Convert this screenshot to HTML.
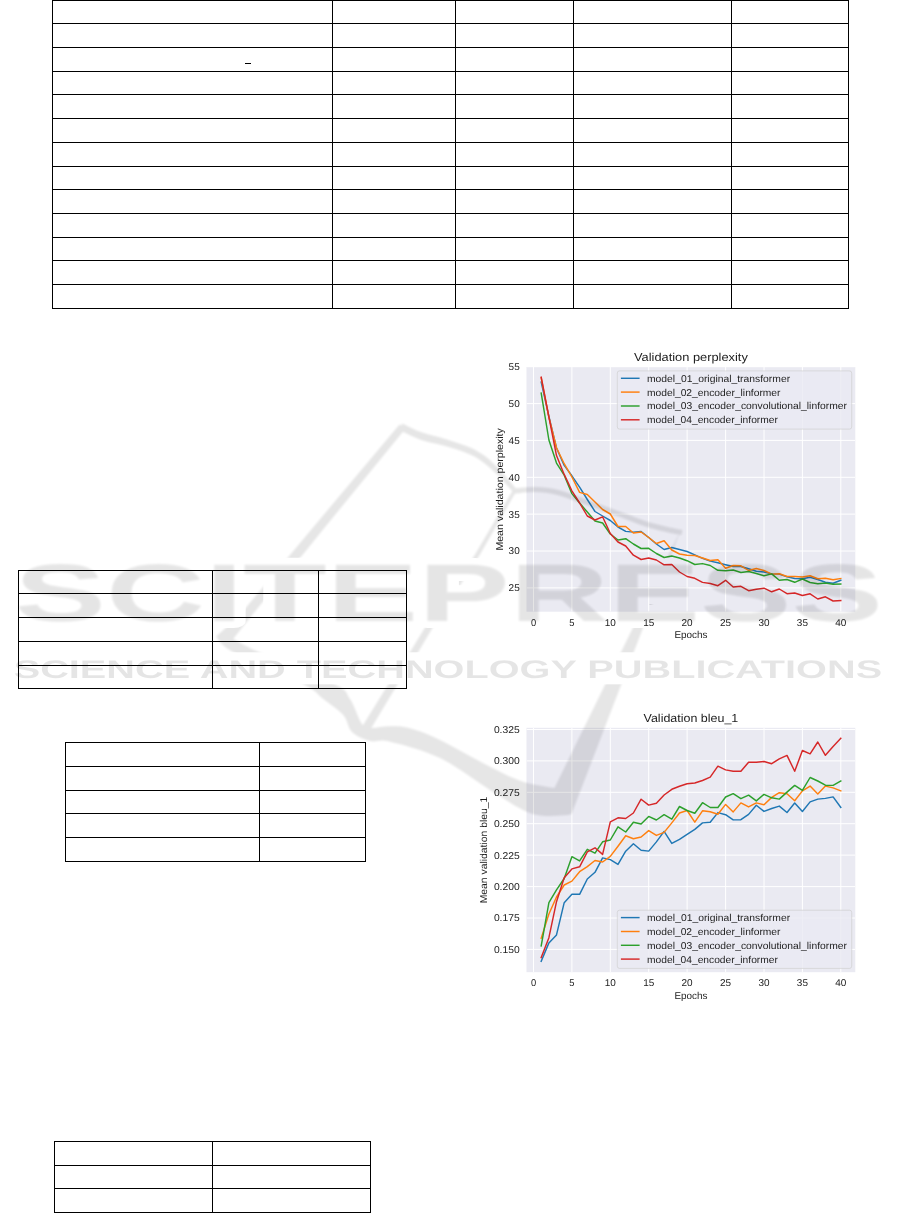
<!DOCTYPE html>
<html lang="en"><head><meta charset="utf-8"><title>Page</title>
<style>html,body{margin:0;padding:0;background:#fff}body{width:901px;height:1213px;overflow:hidden;position:relative;font-family:"Liberation Sans",sans-serif}svg{position:absolute;left:0;top:0;display:block}text{font-family:"Liberation Sans",sans-serif;fill:#1c1c1c;opacity:.999;text-rendering:geometricPrecision}</style></head><body>
<svg width="901" height="1213" viewBox="0 0 901 1213">
<defs><filter id="wb" x="-5%" y="-5%" width="110%" height="110%"><feGaussianBlur stdDeviation="1.0"/></filter><filter id="wb2" x="-5%" y="-20%" width="110%" height="140%"><feGaussianBlur stdDeviation="0.5"/></filter></defs>
<rect x="526.5" y="367.0" width="328.8" height="244.7" fill="#eaeaf2"/>
<clipPath id="cp367"><rect x="526.5" y="367.0" width="328.8" height="244.7"/></clipPath>
<path d="M533.5 367.0V611.7M571.9 367.0V611.7M610.3 367.0V611.7M648.7 367.0V611.7M687.1 367.0V611.7M725.6 367.0V611.7M764.0 367.0V611.7M802.4 367.0V611.7M840.8 367.0V611.7M526.5 366.7H855.3M526.5 403.6H855.3M526.5 440.4H855.3M526.5 477.3H855.3M526.5 514.1H855.3M526.5 551.0H855.3M526.5 587.9H855.3" stroke="#fff" stroke-width="1" fill="none" clip-path="url(#cp367)"/>
<polyline points="541.2,382.1 548.9,416.5 556.5,448.0 564.2,465.4 571.9,475.8 579.6,487.2 587.3,499.5 595.0,511.5 602.6,516.0 610.3,520.5 618.0,527.0 625.7,531.4 633.4,532.1 641.1,531.5 648.7,537.5 656.4,544.0 664.1,549.5 671.8,547.5 679.5,549.5 687.1,551.5 694.8,554.8 702.5,558.3 710.2,561.1 717.9,562.8 725.6,564.7 733.2,566.5 740.9,566.5 748.6,568.7 756.3,571.2 764.0,572.0 771.7,573.9 779.3,574.1 787.0,576.7 794.7,578.5 802.4,578.7 810.1,577.2 817.8,579.5 825.4,582.2 833.1,583.3 840.8,580.3" fill="none" stroke="#1f77b4" stroke-width="1.45" stroke-linejoin="round" stroke-linecap="square"/>
<polyline points="541.2,377.8 548.9,417.3 556.5,447.8 564.2,463.7 571.9,477.0 579.6,492.4 587.3,494.5 595.0,502.0 602.6,509.5 610.3,514.0 618.0,526.5 625.7,526.5 633.4,533.0 641.1,532.0 648.7,537.5 656.4,543.5 664.1,540.8 671.8,550.0 679.5,554.0 687.1,555.2 694.8,555.5 702.5,558.0 710.2,560.5 717.9,559.8 725.6,568.2 733.2,565.5 740.9,565.8 748.6,570.5 756.3,568.5 764.0,570.5 771.7,574.1 779.3,573.7 787.0,576.5 794.7,576.5 802.4,577.0 810.1,575.7 817.8,578.7 825.4,578.3 833.1,579.7 840.8,578.5" fill="none" stroke="#ff7f0e" stroke-width="1.45" stroke-linejoin="round" stroke-linecap="square"/>
<polyline points="541.2,393.1 548.9,440.0 556.5,463.1 564.2,475.2 571.9,493.6 579.6,503.0 587.3,512.0 595.0,521.0 602.6,523.0 610.3,534.0 618.0,540.0 625.7,538.7 633.4,544.0 641.1,548.5 648.7,548.3 656.4,553.5 664.1,557.5 671.8,556.0 679.5,558.0 687.1,560.7 694.8,564.5 702.5,563.6 710.2,565.5 717.9,570.3 725.6,570.8 733.2,570.0 740.9,572.5 748.6,571.5 756.3,573.5 764.0,575.8 771.7,573.9 779.3,580.3 787.0,579.5 794.7,582.3 802.4,579.0 810.1,582.5 817.8,583.7 825.4,583.0 833.1,584.2 840.8,584.0" fill="none" stroke="#2ca02c" stroke-width="1.45" stroke-linejoin="round" stroke-linecap="square"/>
<polyline points="541.2,377.2 548.9,417.0 556.5,455.6 564.2,474.4 571.9,490.8 579.6,503.0 587.3,516.0 595.0,520.0 602.6,516.8 610.3,533.5 618.0,542.0 625.7,546.0 633.4,555.2 641.1,559.5 648.7,558.0 656.4,560.0 664.1,564.8 671.8,564.5 679.5,572.0 687.1,576.5 694.8,578.3 702.5,582.4 710.2,583.5 717.9,585.7 725.6,580.3 733.2,587.0 740.9,586.3 748.6,590.7 756.3,589.2 764.0,588.2 771.7,591.8 779.3,589.0 787.0,593.7 794.7,593.0 802.4,595.5 810.1,593.8 817.8,599.0 825.4,596.8 833.1,601.0 840.8,600.5" fill="none" stroke="#d62728" stroke-width="1.45" stroke-linejoin="round" stroke-linecap="square"/>
<rect x="617.3" y="370.9" width="234.4" height="58.2" rx="2.2" fill="#eaeaf2" fill-opacity=".8" stroke="#ccc" stroke-opacity=".8" stroke-width=".8"/>
<path d="M620.9 378.3H639.6" stroke="#1f77b4" stroke-width="1.45"/>
<text x="647.0" y="381.6" font-size="9.9" text-anchor="start" textLength="143.1" lengthAdjust="spacingAndGlyphs">model_01_original_transformer</text>
<path d="M620.9 392.1H639.6" stroke="#ff7f0e" stroke-width="1.45"/>
<text x="647.0" y="395.5" font-size="9.9" text-anchor="start" textLength="133.5" lengthAdjust="spacingAndGlyphs">model_02_encoder_linformer</text>
<path d="M620.9 406.0H639.6" stroke="#2ca02c" stroke-width="1.45"/>
<text x="647.0" y="409.3" font-size="9.9" text-anchor="start" textLength="199.9" lengthAdjust="spacingAndGlyphs">model_03_encoder_convolutional_linformer</text>
<path d="M620.9 419.8H639.6" stroke="#d62728" stroke-width="1.45"/>
<text x="647.0" y="423.2" font-size="9.9" text-anchor="start" textLength="130.9" lengthAdjust="spacingAndGlyphs">model_04_encoder_informer</text>
<text x="690.9" y="360.7" font-size="11.5" text-anchor="middle" textLength="113.8" lengthAdjust="spacingAndGlyphs">Validation perplexity</text>
<text x="533.5" y="625.6" font-size="9.9" text-anchor="middle" textLength="5.2" lengthAdjust="spacingAndGlyphs">0</text>
<text x="571.9" y="625.6" font-size="9.9" text-anchor="middle" textLength="5.2" lengthAdjust="spacingAndGlyphs">5</text>
<text x="610.3" y="625.6" font-size="9.9" text-anchor="middle" textLength="11.1" lengthAdjust="spacingAndGlyphs">10</text>
<text x="648.7" y="625.6" font-size="9.9" text-anchor="middle" textLength="11.1" lengthAdjust="spacingAndGlyphs">15</text>
<text x="687.1" y="625.6" font-size="9.9" text-anchor="middle" textLength="11.1" lengthAdjust="spacingAndGlyphs">20</text>
<text x="725.6" y="625.6" font-size="9.9" text-anchor="middle" textLength="11.1" lengthAdjust="spacingAndGlyphs">25</text>
<text x="764.0" y="625.6" font-size="9.9" text-anchor="middle" textLength="11.1" lengthAdjust="spacingAndGlyphs">30</text>
<text x="802.4" y="625.6" font-size="9.9" text-anchor="middle" textLength="11.1" lengthAdjust="spacingAndGlyphs">35</text>
<text x="840.8" y="625.6" font-size="9.9" text-anchor="middle" textLength="11.1" lengthAdjust="spacingAndGlyphs">40</text>
<text x="690.9" y="638.3" font-size="9.9" text-anchor="middle" textLength="33.0" lengthAdjust="spacingAndGlyphs">Epochs</text>
<text x="519.7" y="370.1" font-size="9.9" text-anchor="end" textLength="11.1" lengthAdjust="spacingAndGlyphs">55</text>
<text x="519.7" y="406.9" font-size="9.9" text-anchor="end" textLength="11.1" lengthAdjust="spacingAndGlyphs">50</text>
<text x="519.7" y="443.8" font-size="9.9" text-anchor="end" textLength="11.1" lengthAdjust="spacingAndGlyphs">45</text>
<text x="519.7" y="480.7" font-size="9.9" text-anchor="end" textLength="11.1" lengthAdjust="spacingAndGlyphs">40</text>
<text x="519.7" y="517.5" font-size="9.9" text-anchor="end" textLength="11.1" lengthAdjust="spacingAndGlyphs">35</text>
<text x="519.7" y="554.4" font-size="9.9" text-anchor="end" textLength="11.1" lengthAdjust="spacingAndGlyphs">30</text>
<text x="519.7" y="591.2" font-size="9.9" text-anchor="end" textLength="11.1" lengthAdjust="spacingAndGlyphs">25</text>
<text transform="translate(502.6 489.4) rotate(-90)" font-size="9.9" text-anchor="middle" textLength="122.4" lengthAdjust="spacingAndGlyphs">Mean validation perplexity</text>
<rect x="526.5" y="727.8" width="328.8" height="244.4" fill="#eaeaf2"/>
<clipPath id="cp727"><rect x="526.5" y="727.8" width="328.8" height="244.4"/></clipPath>
<path d="M533.5 727.8V972.2M571.9 727.8V972.2M610.3 727.8V972.2M648.7 727.8V972.2M687.1 727.8V972.2M725.6 727.8V972.2M764.0 727.8V972.2M802.4 727.8V972.2M840.8 727.8V972.2M526.5 729.5H855.3M526.5 760.9H855.3M526.5 792.3H855.3M526.5 823.7H855.3M526.5 855.1H855.3M526.5 886.6H855.3M526.5 918.0H855.3M526.5 949.4H855.3" stroke="#fff" stroke-width="1" fill="none" clip-path="url(#cp727)"/>
<polyline points="541.2,961.4 548.9,942.9 556.5,934.9 564.2,902.7 571.9,894.3 579.6,894.3 587.3,879.0 595.0,872.3 602.6,857.9 610.3,859.6 618.0,864.4 625.7,851.2 633.4,843.8 641.1,850.3 648.7,851.1 656.4,841.9 664.1,831.4 671.8,843.4 679.5,839.4 687.1,834.4 694.8,829.4 702.5,822.9 710.2,822.2 717.9,812.6 725.6,814.7 733.2,819.9 740.9,819.7 748.6,814.4 756.3,805.2 764.0,811.4 771.7,808.5 779.3,806.1 787.0,812.5 794.7,803.0 802.4,811.5 810.1,801.9 817.8,799.1 825.4,798.4 833.1,796.9 840.8,807.4" fill="none" stroke="#1f77b4" stroke-width="1.45" stroke-linejoin="round" stroke-linecap="square"/>
<polyline points="541.2,938.2 548.9,914.0 556.5,897.0 564.2,885.0 571.9,881.1 579.6,871.7 587.3,866.6 595.0,860.5 602.6,862.0 610.3,856.4 618.0,846.2 625.7,835.8 633.4,838.8 641.1,837.0 648.7,830.6 656.4,835.4 664.1,832.4 671.8,822.9 679.5,813.0 687.1,810.5 694.8,822.2 702.5,810.8 710.2,811.8 717.9,814.3 725.6,804.4 733.2,811.9 740.9,802.9 748.6,806.9 756.3,802.9 764.0,804.7 771.7,797.4 779.3,792.7 787.0,793.7 794.7,800.8 802.4,790.9 810.1,786.1 817.8,793.9 825.4,786.1 833.1,787.9 840.8,790.9" fill="none" stroke="#ff7f0e" stroke-width="1.45" stroke-linejoin="round" stroke-linecap="square"/>
<polyline points="541.2,945.8 548.9,902.7 556.5,889.9 564.2,878.5 571.9,856.7 579.6,860.9 587.3,849.3 595.0,853.2 602.6,841.8 610.3,840.0 618.0,826.8 625.7,832.0 633.4,822.2 641.1,824.0 648.7,816.4 656.4,820.0 664.1,814.7 671.8,819.2 679.5,806.5 687.1,810.5 694.8,813.3 702.5,802.7 710.2,807.5 717.9,807.5 725.6,797.0 733.2,793.7 740.9,798.7 748.6,795.2 756.3,800.9 764.0,794.4 771.7,797.8 779.3,799.1 787.0,792.1 794.7,785.4 802.4,790.4 810.1,777.5 817.8,781.0 825.4,785.2 833.1,785.4 840.8,781.0" fill="none" stroke="#2ca02c" stroke-width="1.45" stroke-linejoin="round" stroke-linecap="square"/>
<polyline points="541.2,957.6 548.9,937.7 556.5,901.7 564.2,877.7 571.9,868.9 579.6,866.8 587.3,851.9 595.0,847.8 602.6,854.4 610.3,821.8 618.0,817.8 625.7,818.5 633.4,813.0 641.1,799.2 648.7,805.1 656.4,803.3 664.1,795.0 671.8,789.3 679.5,786.3 687.1,783.8 694.8,783.0 702.5,780.5 710.2,777.2 717.9,766.2 725.6,769.9 733.2,771.2 740.9,771.2 748.6,762.2 756.3,762.2 764.0,761.5 771.7,763.7 779.3,758.8 787.0,755.4 794.7,771.3 802.4,750.5 810.1,753.8 817.8,742.0 825.4,755.3 833.1,746.5 840.8,738.3" fill="none" stroke="#d62728" stroke-width="1.45" stroke-linejoin="round" stroke-linecap="square"/>
<rect x="617.3" y="910.2" width="234.4" height="58.2" rx="2.2" fill="#eaeaf2" fill-opacity=".8" stroke="#ccc" stroke-opacity=".8" stroke-width=".8"/>
<path d="M620.9 917.6H639.6" stroke="#1f77b4" stroke-width="1.45"/>
<text x="647.0" y="921.0" font-size="9.9" text-anchor="start" textLength="143.1" lengthAdjust="spacingAndGlyphs">model_01_original_transformer</text>
<path d="M620.9 931.5H639.6" stroke="#ff7f0e" stroke-width="1.45"/>
<text x="647.0" y="934.8" font-size="9.9" text-anchor="start" textLength="133.5" lengthAdjust="spacingAndGlyphs">model_02_encoder_linformer</text>
<path d="M620.9 945.3H639.6" stroke="#2ca02c" stroke-width="1.45"/>
<text x="647.0" y="948.7" font-size="9.9" text-anchor="start" textLength="199.9" lengthAdjust="spacingAndGlyphs">model_03_encoder_convolutional_linformer</text>
<path d="M620.9 959.1H639.6" stroke="#d62728" stroke-width="1.45"/>
<text x="647.0" y="962.5" font-size="9.9" text-anchor="start" textLength="130.9" lengthAdjust="spacingAndGlyphs">model_04_encoder_informer</text>
<text x="690.9" y="721.5" font-size="11.5" text-anchor="middle" textLength="94.7" lengthAdjust="spacingAndGlyphs">Validation bleu_1</text>
<text x="533.5" y="986.1" font-size="9.9" text-anchor="middle" textLength="5.2" lengthAdjust="spacingAndGlyphs">0</text>
<text x="571.9" y="986.1" font-size="9.9" text-anchor="middle" textLength="5.2" lengthAdjust="spacingAndGlyphs">5</text>
<text x="610.3" y="986.1" font-size="9.9" text-anchor="middle" textLength="11.1" lengthAdjust="spacingAndGlyphs">10</text>
<text x="648.7" y="986.1" font-size="9.9" text-anchor="middle" textLength="11.1" lengthAdjust="spacingAndGlyphs">15</text>
<text x="687.1" y="986.1" font-size="9.9" text-anchor="middle" textLength="11.1" lengthAdjust="spacingAndGlyphs">20</text>
<text x="725.6" y="986.1" font-size="9.9" text-anchor="middle" textLength="11.1" lengthAdjust="spacingAndGlyphs">25</text>
<text x="764.0" y="986.1" font-size="9.9" text-anchor="middle" textLength="11.1" lengthAdjust="spacingAndGlyphs">30</text>
<text x="802.4" y="986.1" font-size="9.9" text-anchor="middle" textLength="11.1" lengthAdjust="spacingAndGlyphs">35</text>
<text x="840.8" y="986.1" font-size="9.9" text-anchor="middle" textLength="11.1" lengthAdjust="spacingAndGlyphs">40</text>
<text x="690.9" y="998.8" font-size="9.9" text-anchor="middle" textLength="33.0" lengthAdjust="spacingAndGlyphs">Epochs</text>
<text x="519.7" y="732.9" font-size="9.9" text-anchor="end" textLength="25.8" lengthAdjust="spacingAndGlyphs">0.325</text>
<text x="519.7" y="764.3" font-size="9.9" text-anchor="end" textLength="25.8" lengthAdjust="spacingAndGlyphs">0.300</text>
<text x="519.7" y="795.7" font-size="9.9" text-anchor="end" textLength="25.8" lengthAdjust="spacingAndGlyphs">0.275</text>
<text x="519.7" y="827.1" font-size="9.9" text-anchor="end" textLength="25.8" lengthAdjust="spacingAndGlyphs">0.250</text>
<text x="519.7" y="858.5" font-size="9.9" text-anchor="end" textLength="25.8" lengthAdjust="spacingAndGlyphs">0.225</text>
<text x="519.7" y="890.0" font-size="9.9" text-anchor="end" textLength="25.8" lengthAdjust="spacingAndGlyphs">0.200</text>
<text x="519.7" y="921.4" font-size="9.9" text-anchor="end" textLength="25.8" lengthAdjust="spacingAndGlyphs">0.175</text>
<text x="519.7" y="952.8" font-size="9.9" text-anchor="end" textLength="25.8" lengthAdjust="spacingAndGlyphs">0.150</text>
<text transform="translate(487.4 850.0) rotate(-90)" font-size="9.9" text-anchor="middle" textLength="106.6" lengthAdjust="spacingAndGlyphs">Mean validation bleu_1</text>
<g fill="#000" shape-rendering="crispEdges">
<rect x="52" y="0" width="797" height="1"/><rect x="52" y="23" width="797" height="1"/><rect x="52" y="47" width="797" height="1"/><rect x="52" y="71" width="797" height="1"/><rect x="52" y="94" width="797" height="1"/><rect x="52" y="118" width="797" height="1"/><rect x="52" y="142" width="797" height="1"/><rect x="52" y="166" width="797" height="1"/><rect x="52" y="189" width="797" height="1"/><rect x="52" y="213" width="797" height="1"/><rect x="52" y="237" width="797" height="1"/><rect x="52" y="260" width="797" height="1"/><rect x="52" y="284" width="797" height="1"/><rect x="52" y="308" width="797" height="1"/>
<rect x="52" y="0" width="1" height="309"/><rect x="332" y="0" width="1" height="309"/><rect x="455" y="0" width="1" height="309"/><rect x="573" y="0" width="1" height="309"/><rect x="731" y="0" width="1" height="309"/><rect x="848" y="0" width="1" height="309"/>
<rect x="245" y="63" width="6" height="1"/>
<rect x="18" y="570" width="389" height="1"/><rect x="18" y="593" width="389" height="1"/><rect x="18" y="617" width="389" height="1"/><rect x="18" y="641" width="389" height="1"/><rect x="18" y="665" width="389" height="1"/><rect x="18" y="688" width="389" height="1"/>
<rect x="18" y="570" width="1" height="119"/><rect x="212" y="570" width="1" height="119"/><rect x="318" y="570" width="1" height="119"/><rect x="406" y="570" width="1" height="119"/>
<rect x="65" y="742" width="301" height="1"/><rect x="65" y="766" width="301" height="1"/><rect x="65" y="790" width="301" height="1"/><rect x="65" y="813" width="301" height="1"/><rect x="65" y="837" width="301" height="1"/><rect x="65" y="861" width="301" height="1"/>
<rect x="65" y="742" width="1" height="120"/><rect x="259" y="742" width="1" height="120"/><rect x="365" y="742" width="1" height="120"/>
<rect x="54" y="1141" width="317" height="1"/><rect x="54" y="1165" width="317" height="1"/><rect x="54" y="1188" width="317" height="1"/><rect x="54" y="1212" width="317" height="1"/>
<rect x="54" y="1141" width="1" height="72"/><rect x="212" y="1141" width="1" height="72"/><rect x="370" y="1141" width="1" height="72"/>
</g>
<g opacity="0.098" filter="url(#wb)">
<text x="14.5" y="620.7" font-size="81.7" font-weight="bold" text-anchor="start" textLength="868.5" lengthAdjust="spacingAndGlyphs" style="fill:#000">SCITEPRESS</text>
</g>
<g opacity="0.098" filter="url(#wb2)">
<text x="13.7" y="677.5" font-size="25.5" font-weight="bold" text-anchor="start" textLength="868.5" lengthAdjust="spacingAndGlyphs" style="fill:#000">SCIENCE AND TECHNOLOGY PUBLICATIONS</text>
</g>
<mask id="halo" maskUnits="userSpaceOnUse" x="0" y="0" width="901" height="1213"><rect width="901" height="1213" fill="#fff"/><text x="14.5" y="620.7" font-size="81.7" font-weight="bold" text-anchor="start" textLength="868.5" lengthAdjust="spacingAndGlyphs" stroke-width="14" stroke-linejoin="round" style="fill:#000;stroke:#000">SCITEPRESS</text><rect x="6.7" y="652.3" width="882.8" height="32" fill="#000"/></mask>
<g mask="url(#halo)"><g opacity="0.098" fill="#000" stroke="none" filter="url(#wb)">
<path d="M399.5 424.5L290 554.9L238 617L216 636.6C218.8 639.2 218.6 644.1 233.0 652.0C247.4 659.9 287.6 675.9 302.7 683.7C317.8 691.5 316.5 693.8 323.3 699.0C330.1 704.2 338.5 709.5 343.3 715.0C348.1 720.5 347.6 727.7 352.0 732.0C356.4 736.3 363.7 739.4 370.0 741.0C376.3 742.6 378.3 738.9 390.0 741.7C401.7 744.5 423.3 750.0 440.0 758.0C456.7 766.0 476.2 781.3 490.0 790.0C503.8 798.7 514.2 805.7 523.0 810.0C531.8 814.3 535.5 814.9 543.0 815.7C550.5 816.5 563.8 815.1 568.0 815.0L571.5 814L680.5 530.5L554.5 788C549.2 787.0 533.8 785.2 523.0 781.7C512.2 778.2 503.8 773.7 490.0 766.7C476.2 759.8 453.3 746.4 440.0 740.0C426.7 733.6 418.3 730.6 410.0 728.3C401.7 726.0 396.5 726.3 390.0 726.3C383.5 726.2 375.7 728.3 371.0 728.0C366.3 727.7 365.5 729.1 362.0 724.3C358.5 719.5 354.7 705.8 350.0 699.0C345.3 692.2 349.2 691.5 334.0 683.7C318.8 675.9 275.6 659.6 258.8 652.1C242.0 644.6 237.6 641.0 233.3 638.8L260.6 604.6L302.5 554.9L322.7 530L406 428Z"/>
<path d="M516.4 491L480.0 554.4L432.5 628L418.7 651.3L397.9 683.7L372.5 726L370.5 729L360.5 729L362.5 726L388.6 683.7L410.5 651.3L424.7 628L475.0 554.4L512.4 491Z"/>
<path d="M399.4 430.0C402.8 431.5 412.5 436.8 419.8 439.4C427.1 442.0 435.6 443.2 443.4 445.5C451.2 447.7 460.1 450.4 466.5 453.0C472.8 455.5 476.4 457.4 481.4 460.9C486.5 464.5 492.3 469.8 497.0 474.3C501.6 478.9 506.6 484.9 509.5 488.0C512.3 491.1 513.2 492.1 513.9 492.9L517.1 490.1C516.4 489.3 515.7 488.2 512.9 485.0C510.2 481.7 505.3 475.5 500.6 470.7C496.0 465.8 490.2 460.0 485.0 456.1C479.7 452.1 475.5 449.9 468.9 447.0C462.3 444.2 453.2 441.4 445.4 438.9C437.6 436.5 429.4 435.2 422.2 432.6C415.0 430.0 405.7 425.0 402.4 423.4Z"/>
<path d="M514.4 491C517.8 490.8 528.1 489.3 535.0 489.5C541.9 489.7 548.5 490.2 556.0 492.0C563.5 493.8 570.9 496.8 580.0 500.0C589.1 503.2 602.8 508.2 610.5 511.0C618.2 513.8 620.1 514.3 626.0 516.5C631.9 518.7 639.3 521.9 646.0 524.0C652.7 526.1 660.0 527.9 666.0 529.3C672.0 530.7 679.3 532.0 682.0 532.5" fill="none" stroke="#000" stroke-width="5.2"/>
</g></g>
</svg></body></html>
